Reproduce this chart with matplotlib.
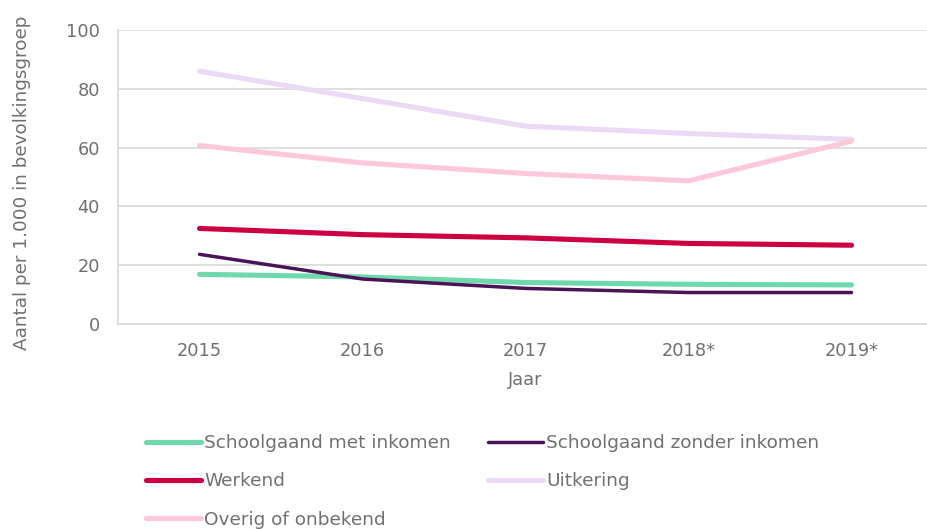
import matplotlib.pyplot as plt

plt.rcParams['font.family'] = ['DejaVu Sans']

# aantal per 1.000 in bevolkingsgroep, per jaar
jaren = ['2015', '2016', '2017', '2018*', '2019*']
schoolgaand_met = [16.9, 16.0, 14.1, 13.5, 13.3]
schoolgaand_zonder = [23.7, 15.3, 12.1, 10.7, 10.7]
werkend = [32.5, 30.4, 29.3, 27.4, 26.8]
uitkering = [86.0, 76.7, 67.3, 64.8, 62.8]
overig = [60.7, 54.8, 51.2, 48.7, 62.2]

text_col = '#707070'
grid_col = '#d9d9d9'

fig = plt.figure(figsize=(9.27, 5.29), dpi=100)
ax = fig.add_axes([118 / 927, 1 - 324 / 529, 815 / 927, 294 / 529])

x = range(len(jaren))
kw = dict(solid_capstyle='round', solid_joinstyle='round')
l_met, = ax.plot(x, schoolgaand_met, color='#6fd9ad', lw=3.7, label='Schoolgaand met inkomen', **kw)
l_zon, = ax.plot(x, schoolgaand_zonder, color='#4a1356', lw=2.5, label='Schoolgaand zonder inkomen', **kw)
l_wer, = ax.plot(x, werkend, color='#cc0041', lw=3.7, label='Werkend', **kw)
l_uit, = ax.plot(x, uitkering, color='#ecd9f5', lw=3.7, label='Uitkering', **kw)
l_ove, = ax.plot(x, overig, color='#ffc8d9', lw=3.7, label='Overig of onbekend', **kw)

ax.set_xlim(-0.5, 4.5)
ax.set_ylim(0, 100)
ax.set_yticks(range(0, 101, 20))
ax.set_xticks(list(x))
ax.set_xticklabels(jaren)
ax.grid(axis='y', color=grid_col, lw=1.2)
ax.set_axisbelow(True)
for s in ['top', 'right']:
    ax.spines[s].set_visible(False)
for s in ['left', 'bottom']:
    ax.spines[s].set_color(grid_col)
    ax.spines[s].set_linewidth(1.2)
ax.tick_params(length=0, labelsize=12.8, labelcolor=text_col, pad=13)
ax.tick_params(axis='y', pad=13)
ax.set_xlabel('Jaar', fontsize=12.8, color=text_col, labelpad=8)
ax.set_ylabel('Aantal per 1.000 in bevolkingsgroep', fontsize=13.2, color=text_col)
ax.yaxis.set_label_coords(-0.107, 0.48)

# column-wise fill: left column met/werkend/overig, right column zonder/uitkering
handles = [l_met, l_wer, l_ove, l_zon, l_uit]
leg = fig.legend(handles=handles, labels=[h.get_label() for h in handles],
                 ncol=2, loc='upper left', bbox_to_anchor=(146 / 927, 1 - 434 / 529),
                 frameon=False, fontsize=13.3, handlelength=3.0, handletextpad=0.15,
                 columnspacing=2.0, labelspacing=1.1, borderpad=0, borderaxespad=0)
for t in leg.get_texts():
    t.set_color(text_col)

fig.savefig('out.png', dpi=100)
